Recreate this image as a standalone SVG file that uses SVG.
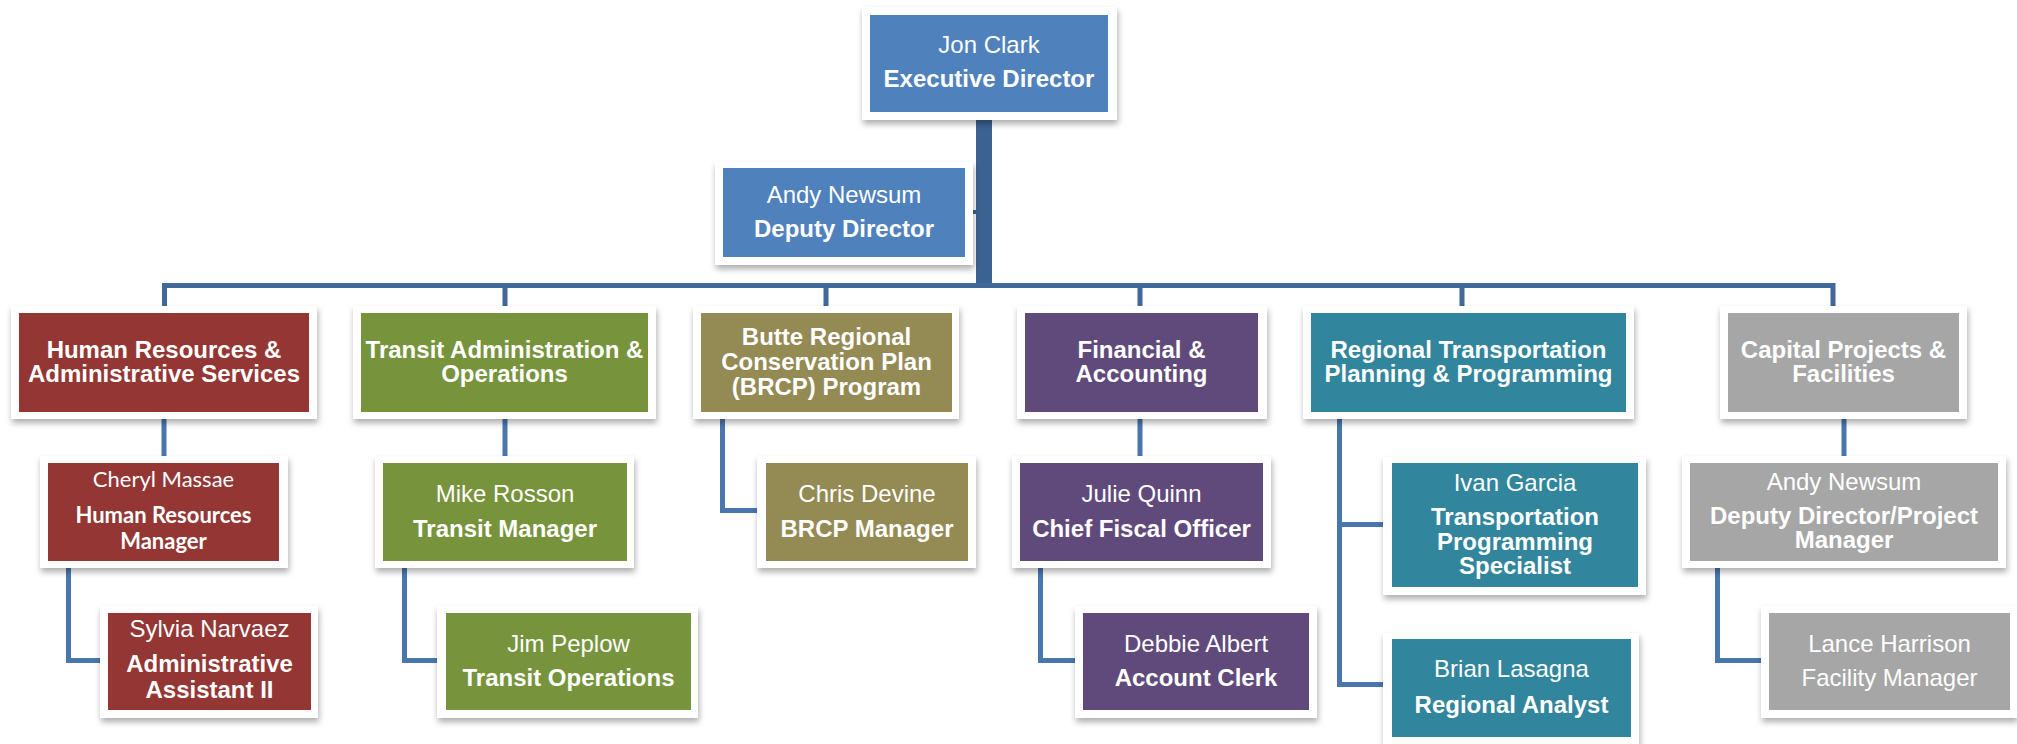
<svg xmlns="http://www.w3.org/2000/svg" width="2017" height="744" viewBox="0 0 2017 744">
<defs>
<filter id="sh" x="-10%" y="-20%" width="120%" height="150%">
<feDropShadow dx="1" dy="4" stdDeviation="3" flood-color="#000" flood-opacity="0.32"/>
</filter>
<style>
.fr{fill:#ffffff;filter:url(#sh)}
.blue{fill:#4f81bd}.red{fill:#943634}.green{fill:#77933c}.olive{fill:#948a54}.purple{fill:#604a7b}.teal{fill:#31859c}.gray{fill:#a6a6a6}
text{fill:#ffffff;font-family:"Liberation Sans",Arial,sans-serif;font-size:24px;text-anchor:middle}
.b{font-weight:bold}
.c{font-family:Lato,"Open Sans",sans-serif;font-size:22px}
.cn{stroke:#4a76ae;stroke-width:5;fill:none;stroke-linejoin:miter}
.bus{stroke:#41689a;stroke-width:5;fill:none;stroke-linejoin:miter}
</style>
</defs>
<rect width="2017" height="744" fill="#ffffff"/>
<g id="connectors">
<line x1="984" y1="110" x2="984" y2="288" stroke="#3c6291" stroke-width="16"/>
<line x1="960" y1="212" x2="980" y2="212" stroke="#3c6291" stroke-width="4"/>
<path class="bus" d="M164.5,315 V285.5 H1833 V315"/>
<path class="bus" d="M505,285.5 V315 M826,285.5 V315 M1140,285.5 V315 M1462,285.5 V315"/>
<path class="cn" d="M164,410 V465 M505,410 V465 M1140,410 V465 M1844,410 V465"/>
<path class="cn" d="M68.5,560 V660.5 H110"/>
<path class="cn" d="M404.5,560 V660.5 H448"/>
<path class="cn" d="M722.5,410 V510.5 H768"/>
<path class="cn" d="M1040.5,560 V660.5 H1085"/>
<path class="cn" d="M1339.5,410 V684.5 H1394 M1339.5,524.5 H1394"/>
<path class="cn" d="M1717.5,560 V660.5 H1771"/>
</g>
<g id="jon-clark">
<rect class="fr" x="862" y="7" width="255" height="113"/>
<rect class="blue" x="870" y="15" width="238" height="97"/>
<text x="989" y="53">Jon Clark</text>
<text class="b" x="989" y="87">Executive Director</text>
</g>
<g id="andy-newsum-deputy">
<rect class="fr" x="715" y="162" width="258" height="103"/>
<rect class="blue" x="723" y="168" width="242" height="89"/>
<text x="844" y="203">Andy Newsum</text>
<text class="b" x="844" y="237">Deputy Director</text>
</g>
<g id="hr-dept">
<rect class="fr" x="11" y="306" width="306" height="113"/>
<rect class="red" x="19" y="313" width="290" height="99"/>
<text class="b" x="164" y="358">Human Resources &amp;</text>
<text class="b" x="164" y="382">Administrative Services</text>
</g>
<g id="transit-dept">
<rect class="fr" x="353" y="306" width="303" height="113"/>
<rect class="green" x="361" y="313" width="287" height="99"/>
<text class="b" x="504.5" y="358">Transit Administration &amp;</text>
<text class="b" x="504.5" y="382">Operations</text>
</g>
<g id="brcp-dept">
<rect class="fr" x="693" y="306" width="266" height="113"/>
<rect class="olive" x="701" y="313" width="251" height="99"/>
<text class="b" x="826.5" y="345">Butte Regional</text>
<text class="b" x="826.5" y="370">Conservation Plan</text>
<text class="b" x="826.5" y="395">(BRCP) Program</text>
</g>
<g id="finance-dept">
<rect class="fr" x="1017" y="306" width="250" height="113"/>
<rect class="purple" x="1025" y="313" width="233" height="99"/>
<text class="b" x="1141.5" y="358">Financial &amp;</text>
<text class="b" x="1141.5" y="382">Accounting</text>
</g>
<g id="rtpp-dept">
<rect class="fr" x="1303" y="306" width="331" height="113"/>
<rect class="teal" x="1311" y="313" width="315" height="99"/>
<text class="b" x="1468.5" y="358">Regional Transportation</text>
<text class="b" x="1468.5" y="382">Planning &amp; Programming</text>
</g>
<g id="capital-dept">
<rect class="fr" x="1720" y="306" width="247" height="113"/>
<rect class="gray" x="1728" y="313" width="231" height="99"/>
<text class="b" x="1843.5" y="358">Capital Projects &amp;</text>
<text class="b" x="1843.5" y="382">Facilities</text>
</g>
<g id="cheryl-massae">
<rect class="fr" x="40" y="456" width="248" height="112"/>
<rect class="red" x="48" y="463" width="231" height="98"/>
<text class="c" x="163.5" y="487">Cheryl Massae</text>
<text class="c b" x="163.5" y="523">Human Resources</text>
<text class="c b" x="163.5" y="549">Manager</text>
</g>
<g id="sylvia-narvaez">
<rect class="fr" x="100" y="606" width="218" height="112"/>
<rect class="red" x="108" y="613" width="203" height="97"/>
<text x="209.5" y="637">Sylvia Narvaez</text>
<text class="b" x="209.5" y="672">Administrative</text>
<text class="b" x="209.5" y="698">Assistant II</text>
</g>
<g id="mike-rosson">
<rect class="fr" x="375" y="456" width="259" height="112"/>
<rect class="green" x="383" y="463" width="244" height="98"/>
<text x="505" y="502">Mike Rosson</text>
<text class="b" x="505" y="537">Transit Manager</text>
</g>
<g id="jim-peplow">
<rect class="fr" x="437" y="606" width="261" height="112"/>
<rect class="green" x="446" y="613" width="245" height="97"/>
<text x="568.5" y="652">Jim Peplow</text>
<text class="b" x="568.5" y="686">Transit Operations</text>
</g>
<g id="chris-devine">
<rect class="fr" x="757" y="456" width="219" height="112"/>
<rect class="olive" x="766" y="463" width="202" height="98"/>
<text x="867" y="502">Chris Devine</text>
<text class="b" x="867" y="537">BRCP Manager</text>
</g>
<g id="julie-quinn">
<rect class="fr" x="1012" y="456" width="259" height="112"/>
<rect class="purple" x="1020" y="463" width="243" height="98"/>
<text x="1141.5" y="502">Julie Quinn</text>
<text class="b" x="1141.5" y="537">Chief Fiscal Officer</text>
</g>
<g id="debbie-albert">
<rect class="fr" x="1075" y="606" width="242" height="112"/>
<rect class="purple" x="1083" y="613" width="226" height="97"/>
<text x="1196" y="652">Debbie Albert</text>
<text class="b" x="1196" y="686">Account Clerk</text>
</g>
<g id="ivan-garcia">
<rect class="fr" x="1383" y="457" width="263" height="138"/>
<rect class="teal" x="1392" y="463" width="246" height="124"/>
<text x="1515" y="491">Ivan Garcia</text>
<text class="b" x="1515" y="525">Transportation</text>
<text class="b" x="1515" y="550">Programming</text>
<text class="b" x="1515" y="574">Specialist</text>
</g>
<g id="brian-lasagna">
<rect class="fr" x="1383" y="633" width="256" height="116"/>
<rect class="teal" x="1392" y="639" width="239" height="98"/>
<text x="1511.5" y="677">Brian Lasagna</text>
<text class="b" x="1511.5" y="713">Regional Analyst</text>
</g>
<g id="andy-newsum-pm">
<rect class="fr" x="1682" y="456" width="324" height="112"/>
<rect class="gray" x="1690" y="463" width="308" height="98"/>
<text x="1844" y="490">Andy Newsum</text>
<text class="b" x="1844" y="524">Deputy Director/Project</text>
<text class="b" x="1844" y="548">Manager</text>
</g>
<g id="lance-harrison">
<rect class="fr" x="1761" y="606" width="256" height="112"/>
<rect class="gray" x="1769" y="613" width="241" height="97"/>
<text x="1889.5" y="652">Lance Harrison</text>
<text x="1889.5" y="686">Facility Manager</text>
</g>
</svg>
